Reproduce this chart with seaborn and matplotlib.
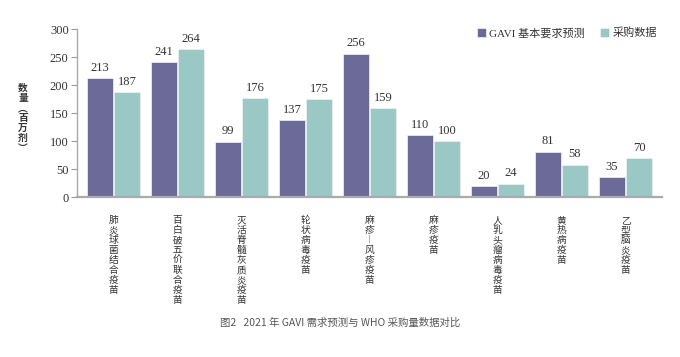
import pandas as pd
import seaborn as sns
import matplotlib.pyplot as plt

# data
categories = ['肺炎球菌结合疫苗', '百白破五价联合疫苗', '灭活脊髓灰质炎疫苗',
              '轮状病毒疫苗', '麻疹︱风疹疫苗', '麻疹疫苗', '人乳头瘤病毒疫苗',
              '黄热病疫苗', '乙型脑炎疫苗']
gavi = [213, 241, 99, 137, 256, 110, 20, 81, 35]
purchase = [187, 264, 176, 175, 159, 100, 24, 58, 70]
series = ['GAVI 基本要求预测', '采购数据']
colors = ['#6b6a99', '#9ac8c5']
yticks = [0, 50, 100, 150, 200, 250, 300]

sns.set_style('white')
plt.rcParams['font.family'] = ['Liberation Serif', 'Noto Sans CJK SC']
CJK = ['Noto Sans CJK SC', 'DejaVu Sans']

df = pd.DataFrame({
    'cat': categories * 2,
    'value': gavi + purchase,
    'series': [series[0]] * len(gavi) + [series[1]] * len(purchase),
})

fig = plt.figure(figsize=(6.8, 3.57), dpi=100)
ax = fig.add_axes([77 / 680, 1 - 197 / 357, 585 / 680, 168 / 357])

sns.barplot(data=df, x='cat', y='value', hue='series', palette=colors,
            width=0.84, gap=0.06, edgecolor='#f2f2f6', linewidth=0.5,
            saturation=1, ax=ax)

for c in ax.containers:
    ax.bar_label(c, fmt='%d', padding=3, fontsize=9, color='#333333')

ax.set_xlim(-0.57, 8.57)
ax.set_ylim(0, 300)
ax.set_yticks(yticks)
ax.set_yticklabels([str(t) for t in yticks], fontsize=9, color='#333333')
ax.set_xticks(range(len(categories)))
ax.set_xticklabels(['\n'.join(c) for c in categories], fontsize=7,
                   color='#333333', linespacing=1.0, va='top', family=CJK)
ax.tick_params(axis='x', length=0, pad=13)
ax.tick_params(axis='y', length=4, width=0.8, color='#999999', pad=2, left=True)
ax.set_xlabel('')
ax.set_ylabel('')

sns.despine(ax=ax)
for s in ['left', 'bottom']:
    ax.spines[s].set_color('#aaaaaa')
ax.spines['left'].set_linewidth(1.0)
ax.spines['bottom'].set_linewidth(1.6)

# legend as in the reference (top right, squares)
handles, labels = ax.get_legend_handles_labels()
ax.get_legend().remove()
fig.legend(handles, labels, loc='center right',
           bbox_to_anchor=(667 / 680, 1 - 33 / 357), ncol=2, frameon=False,
           fontsize=8, handlelength=0.8, handleheight=0.8, handletextpad=0.3,
           columnspacing=1.4, labelcolor='#333333')

# stacked vertical y label
fig.text(23 / 680, 1 - 118 / 357, '\n'.join('数量︵百万剂︶'), ha='center',
         va='center', fontsize=7, fontweight='bold', color='#333333',
         linespacing=1.0, family=CJK)

# caption
fig.text(0.5, 1 - 323 / 357, '图2   2021 年 GAVI 需求预测与 WHO 采购量数据对比',
         ha='center', va='center', fontsize=7.5, color='#555555', family=CJK)

fig.savefig('out.png', dpi=100, facecolor='white')
